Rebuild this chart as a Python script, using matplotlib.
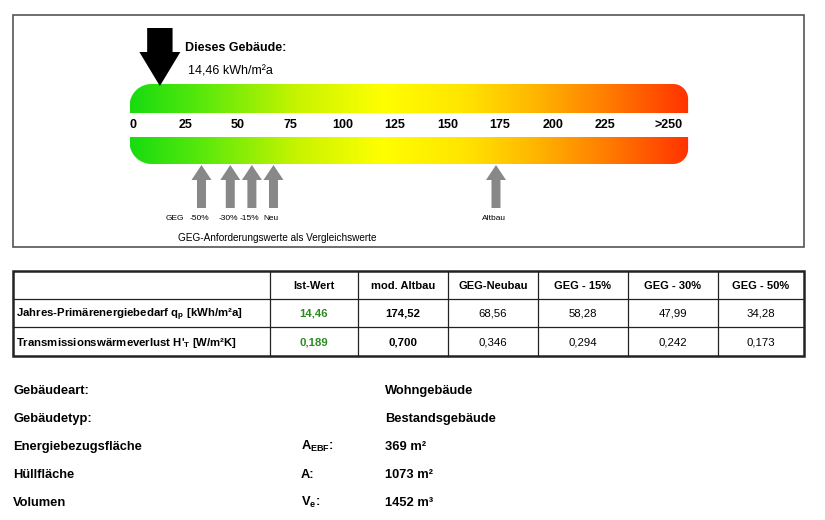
import numpy as np
import matplotlib
matplotlib.use("Agg")
import matplotlib.pyplot as plt
from matplotlib.colors import LinearSegmentedColormap
from matplotlib.patches import Rectangle, Polygon, PathPatch
from matplotlib.path import Path

plt.rcParams['font.family'] = ['Liberation Sans', 'DejaVu Sans']

# --- data ---
this_building = 14.46
scale_ticks = [0, 25, 50, 75, 100, 125, 150, 175, 200, 225]
scale_last_label = ">250"
scale_last_pos = 250
scale_end = 266

columns = ["Ist-Wert", "mod. Altbau", "GEG-Neubau", "GEG - 15%", "GEG - 30%", "GEG - 50%"]
row_labels = [r"Jahres-Primärenergiebedarf q$_\mathregular{p}$ [kWh/m²a]",
              r"Transmissionswärmeverlust H'$_\mathregular{T}$ [W/m²K]"]
qp_values = [14.46, 174.52, 68.56, 58.28, 47.99, 34.28]
ht_values = [0.189, 0.700, 0.346, 0.294, 0.242, 0.173]

# reference arrows: label, column index in table
ref_labels = ["-50%", "-30%", "-15%", "Neu", "Altbau"]
ref_cols = [5, 4, 3, 2, 1]

info_labels = ["Gebäudeart:", "Gebäudetyp:", "Energiebezugsfläche", "Hüllfläche", "Volumen"]
info_symbols = ["", "", r"A$_\mathregular{EBF}$:", "A:", r"V$_\mathregular{e}$:"]
info_values = ["Wohngebäude", "Bestandsgebäude", "369 m²", "1073 m²", "1452 m³"]


def de(v, nd):
    return f"{v:.{nd}f}".replace(".", ",")


fig = plt.figure(figsize=(8.25, 5.2), dpi=100)
# layout axes in pixels
ax = fig.add_axes([0, 0, 1, 1])
ax.set_xlim(0, 825)
ax.set_ylim(520, 0)
ax.axis('off')

# scale axes: x in kWh/m²a, y in pixels
x0_px, ppu = 129.5, 2.1
sc = fig.add_axes([0, 0, 1, 1])
sc.set_xlim(-x0_px / ppu, (825 - x0_px) / ppu)
sc.set_ylim(520, 0)
sc.axis('off')
sc.patch.set_alpha(0)

ax.add_patch(Rectangle((13, 15), 791, 232, fill=False, ec='#555555', lw=1.2))

cmap = LinearSegmentedColormap.from_list("geg", [
    (0.0, "#18dc10"), (0.12, "#55e80c"), (0.3, "#c8f400"), (0.45, "#ffff00"),
    (0.6, "#ffe400"), (0.72, "#ffb800"), (0.86, "#ff7a00"), (1.0, "#ff3300")])


def rounded_bar(y_top, y_bot, r_left, r_right, top=True):
    # quarter-ellipse corners; radii in px
    rl, rr = r_left / ppu, r_right / ppu
    t = np.linspace(0, np.pi / 2, 20)
    if top:
        left = [(rl - rl * np.cos(a), y_top + r_left - r_left * np.sin(a)) for a in t]
        right = [(scale_end - rr + rr * np.sin(a), y_top + r_right - r_right * np.cos(a)) for a in t]
        verts = [(0, y_bot)] + left + right + [(scale_end, y_bot), (0, y_bot)]
    else:
        right = [(scale_end - rr + rr * np.cos(a), y_bot - r_right + r_right * np.sin(a)) for a in t]
        left = [(rl - rl * np.sin(a), y_bot - r_left + r_left * np.cos(a)) for a in t]
        verts = [(0, y_top), (scale_end, y_top)] + right + left + [(0, y_top)]
    return Path(verts)


grad = np.linspace(0, 1, 512)[None, :]
for y_top, y_bot, top in [(84, 113, True), (137, 164, False)]:
    path = rounded_bar(y_top, y_bot, 22, 15, top)
    patch = PathPatch(path, fc='none', ec='none')
    sc.add_patch(patch)
    im = sc.imshow(grad, cmap=cmap, extent=(0, scale_end, y_bot, y_top),
                   aspect='auto', interpolation='bilinear')
    im.set_clip_path(patch)
sc.set_xlim(-x0_px / ppu, (825 - x0_px) / ppu)
sc.set_ylim(520, 0)

for v in scale_ticks:
    sc.text(v + 1.5, 125, str(v), ha='center', va='center', fontsize=9, fontweight='bold')
sc.text(scale_last_pos + 6.5, 125, scale_last_label, ha='center', va='center', fontsize=9,
        fontweight='bold')


def arrow(x, tip, base, end, head_hw, shaft_hw):
    h, s = head_hw / ppu, shaft_hw / ppu
    return [(x, tip), (x + h, base), (x + s, base), (x + s, end), (x - s, end),
            (x - s, base), (x - h, base)]


# this building arrow
sc.add_patch(Polygon(arrow(this_building, 86, 52, 28, 20.5, 12.7), closed=True,
                     fc='black', ec='none'))
ax.text(185, 48, "Dieses Gebäude:", fontsize=9, fontweight='bold', ha='left', va='center')
ax.text(188, 71, de(this_building, 2) + " kWh/m²a", fontsize=9, ha='left', va='center')

# reference arrows
for lab, ci in zip(ref_labels, ref_cols):
    v = qp_values[ci]
    sc.add_patch(Polygon(arrow(v, 165, 180, 208, 10, 4.5), closed=True, fc='#888888', ec='none'))
    sc.text(v - 1, 218, lab, ha='center', va='center', fontsize=6)
sc.text(qp_values[5] - 8.5, 218, "GEG", ha='right', va='center', fontsize=6)
ax.text(178, 238, "GEG-Anforderungswerte als Vergleichswerte", fontsize=7.2, ha='left', va='center')

# table
col_edges = [13, 270, 358, 448, 538, 628, 718, 804]
row_edges = [271, 299, 327, 356]
for x in col_edges[1:-1]:
    ax.plot([x, x], [row_edges[0], row_edges[-1]], color='#222222', lw=0.9)
for y in row_edges[1:-1]:
    ax.plot([col_edges[0], col_edges[-1]], [y, y], color='#222222', lw=0.9)
ax.add_patch(Rectangle((col_edges[0], row_edges[0]), col_edges[-1] - col_edges[0],
                       row_edges[-1] - row_edges[0], fill=False, ec='#222222', lw=1.8))

yc = [(row_edges[i] + row_edges[i + 1]) / 2 for i in range(3)]
for j, name in enumerate(columns):
    xc = (col_edges[j + 1] + col_edges[j + 2]) / 2
    ax.text(xc, yc[0] + 4, name, ha='center', va='baseline', fontsize=8, fontweight='bold')
    for i, (vals, nd) in enumerate([(qp_values, 2), (ht_values, 3)]):
        color = '#2e8b22' if j == 0 else 'black'
        weight = 'bold' if j < 2 else 'normal'
        ax.text(xc, yc[i + 1] + 4, de(vals[j], nd), ha='center', va='baseline', fontsize=8.2,
                color=color, fontweight=weight)
for i, lab in enumerate(row_labels):
    ax.text(16, yc[i + 1] + 4, lab, ha='left', va='baseline', fontsize=8.2, fontweight='bold')

# building info
for i, (lab, sym, val) in enumerate(zip(info_labels, info_symbols, info_values)):
    y = 394 + i * 28
    ax.text(13, y, lab, ha='left', va='baseline', fontsize=9.3, fontweight='bold')
    if sym:
        ax.text(301, y, sym, ha='left', va='baseline', fontsize=9.3, fontweight='bold')
    ax.text(385, y, val, ha='left', va='baseline', fontsize=9.3, fontweight='bold')

fig.savefig("out.png", dpi=100)
